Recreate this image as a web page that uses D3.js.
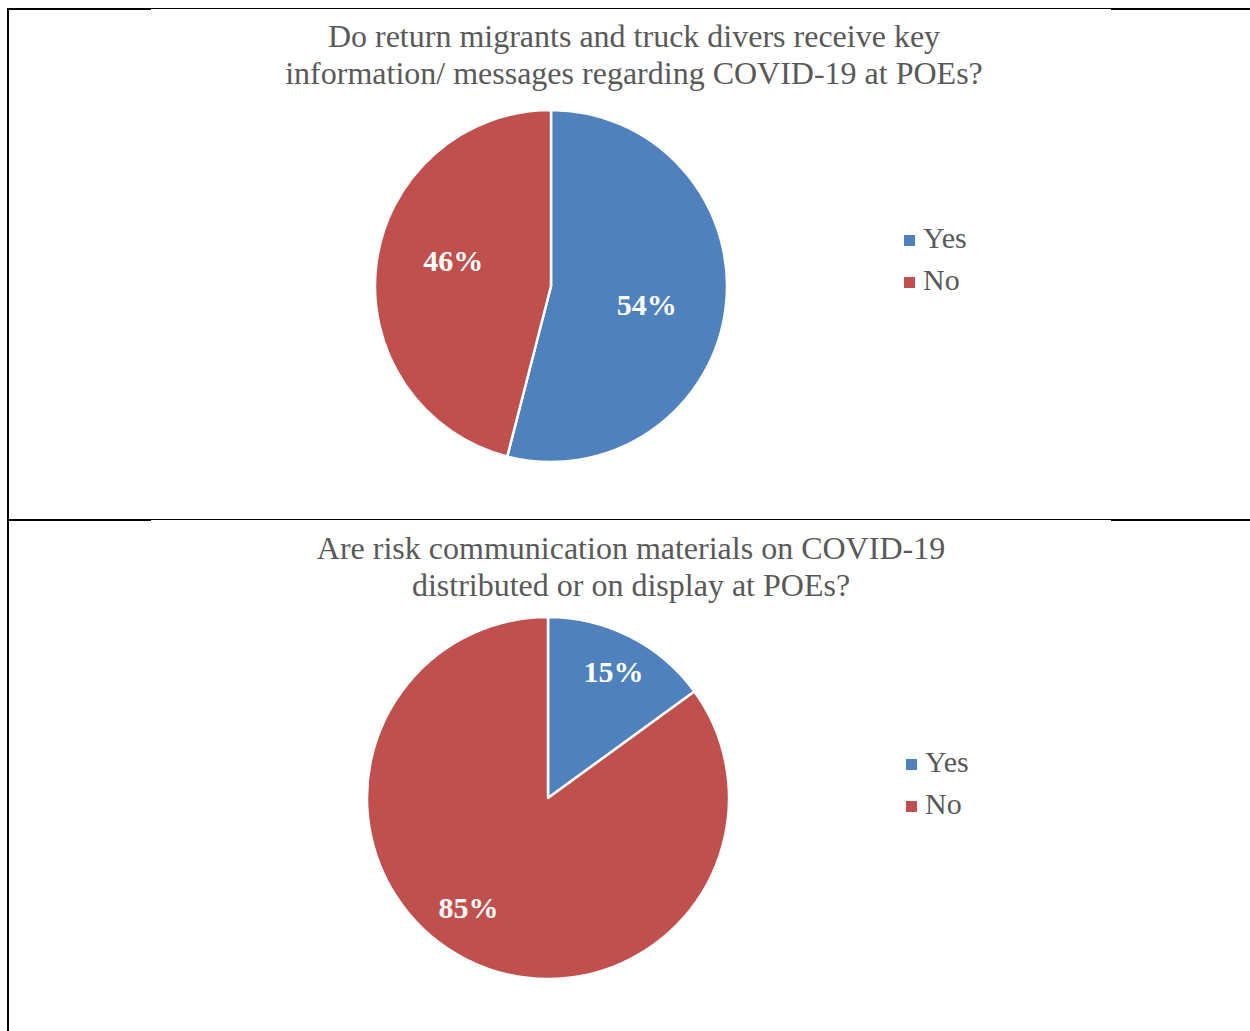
<!DOCTYPE html>
<html>
<head>
<meta charset="utf-8">
<script src="https://cdn.jsdelivr.net/npm/d3@7"></script>
<style>
  html, body { margin: 0; padding: 0; background: #fff; }
  svg { display: block; }
</style>
</head>
<body>
<script>
// Survey answers shown in the two pies
const categories = ["Yes", "No"];
const infoTitle = ["Do return migrants and truck divers receive key", "information/ messages regarding COVID-19 at POEs?"];
const infoValues = [54, 46];
const materialsTitle = ["Are risk communication materials on COVID-19", "distributed or on display at POEs?"];
const materialsValues = [15, 85];

const W = 1250, H = 1031;
const colors = d3.scaleOrdinal().domain(categories).range(["#4F81BD", "#C0504D"]);
const serif = "'Liberation Serif', 'Times New Roman', serif";

const svg = d3.select("body").append("svg").attr("width", W).attr("height", H);

// Table rules framing the two charts
const rules = svg.append("g").attr("stroke", "#000").attr("fill", "none");
function rowRule(y) {
  rules.append("line").attr("x1", 7).attr("x2", W).attr("y1", y + 0.5).attr("y2", y + 0.5).attr("stroke-width", 1);
  rules.append("line").attr("x1", 7).attr("x2", 151).attr("y1", y + 1).attr("y2", y + 1).attr("stroke-width", 2);
  rules.append("line").attr("x1", 1111).attr("x2", W).attr("y1", y + 1).attr("y2", y + 1).attr("stroke-width", 2);
}
rowRule(8);
rowRule(519);
rules.append("line").attr("x1", 8).attr("x2", 8).attr("y1", 8).attr("y2", H).attr("stroke-width", 2);

function drawPie(cfg) {
  const g = svg.append("g");

  // Title
  const title = g.append("text")
    .attr("text-anchor", "middle")
    .attr("font-family", serif)
    .attr("font-size", 32)
    .attr("fill", "#595959");
  cfg.title.forEach((line, i) => {
    title.append("tspan").attr("x", cfg.titleX).attr("y", cfg.titleY + i * 37).text(line);
  });

  const data = categories.map((c, i) => ({ cat: c, value: cfg.values[i] }));
  const pie = d3.pie().value(d => d.value).sort(null);
  const arcs = pie(data);
  const arc = d3.arc().innerRadius(0).outerRadius(cfg.r);
  const labelArc = d3.arc().innerRadius(cfg.r * cfg.labelFrac).outerRadius(cfg.r * cfg.labelFrac);

  const pg = g.append("g").attr("transform", `translate(${cfg.cx},${cfg.cy})`);
  pg.selectAll("path").data(arcs).join("path")
    .attr("d", arc)
    .attr("fill", d => colors(d.data.cat))
    .attr("stroke", "#fff")
    .attr("stroke-width", 2.5)
    .attr("stroke-linejoin", "round");

  // Percentage labels, placed near each slice's centroid with a small nudge
  pg.selectAll("text").data(arcs).join("text")
    .attr("transform", (d, i) => {
      const [x, y] = labelArc.centroid(d);
      const [nx, ny] = cfg.labelNudge[i];
      return `translate(${x + nx},${y + ny})`;
    })
    .attr("text-anchor", "middle")
    .attr("dy", "0.35em")
    .attr("font-family", serif)
    .attr("font-weight", "bold")
    .attr("font-size", 30)
    .attr("fill", "#fff")
    .text(d => d.data.value + "%");

  // Legend
  const lg = g.append("g").attr("transform", `translate(${cfg.legendX},${cfg.legendY})`);
  const items = lg.selectAll("g").data(categories).join("g")
    .attr("transform", (d, i) => `translate(0,${i * 42})`);
  items.append("rect")
    .attr("x", 0).attr("y", -13).attr("width", 11).attr("height", 11)
    .attr("fill", d => colors(d));
  items.append("text")
    .attr("x", 19).attr("y", 0)
    .attr("font-family", serif)
    .attr("font-size", 30)
    .attr("fill", "#595959")
    .text(d => d);
}

drawPie({
  title: infoTitle, values: infoValues, titleX: 634, titleY: 47,
  cx: 551, cy: 286, r: 176, labelFrac: 0.56,
  labelNudge: [[-2, 6], [0, -13]],
  legendX: 904, legendY: 248
});

drawPie({
  title: materialsTitle, values: materialsValues, titleX: 631, titleY: 559,
  cx: 548, cy: 798, r: 181, labelFrac: 0.76,
  labelNudge: [[3, -4], [-17, -13]],
  legendX: 906, legendY: 772
});
</script>
</body>
</html>
